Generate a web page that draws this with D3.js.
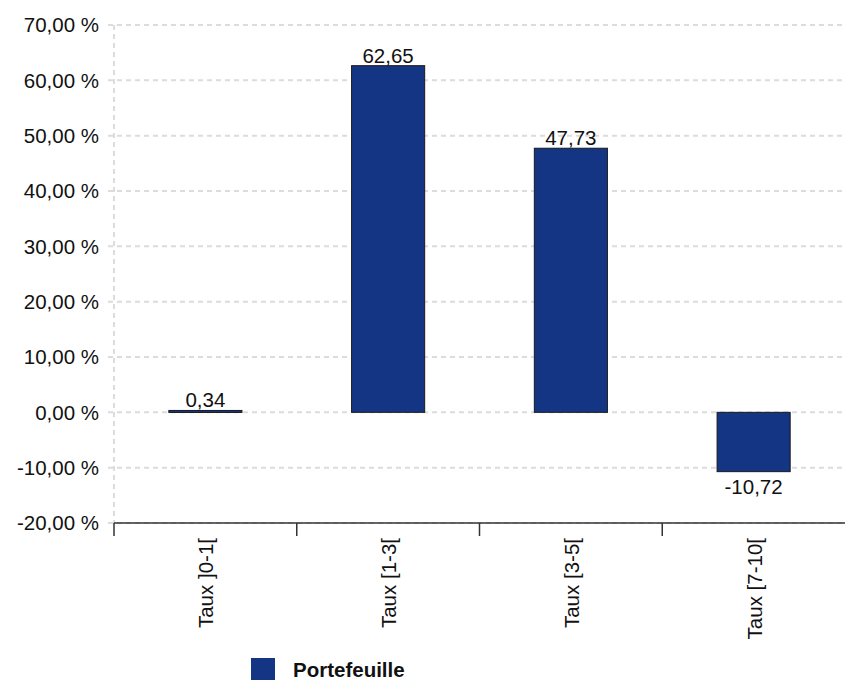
<!DOCTYPE html>
<html>
<head>
<meta charset="utf-8">
<script src="https://cdn.jsdelivr.net/npm/d3@7"></script>
<style>
  body { margin: 0; background: #fff; }
  svg { display: block; font-family: "Liberation Sans", Arial, sans-serif; }
</style>
</head>
<body>
<div id="chart"></div>
<script>
// Data
const categories = ["Taux ]0-1[", "Taux [1-3[", "Taux [3-5[", "Taux [7-10["];
const values = [0.34, 62.65, 47.73, -10.72];
const yTicks = [-20, -10, 0, 10, 20, 30, 40, 50, 60, 70];
const seriesName = "Portefeuille";

const W = 845, H = 680;
var margin = { top: 25, right: 0, bottom: 157, left: 114 },
    width = W - margin.left - margin.right,
    height = H - margin.top - margin.bottom;

const fmt = v => v.toFixed(2).replace(".", ",");

var svg = d3.select("#chart")
    .append("svg")
    .attr("width", W)
    .attr("height", H);

var g = svg.append("g")
    .attr("transform", "translate(" + margin.left + "," + margin.top + ")");

// Scales
var x = d3.scaleBand()
    .domain(categories)
    .range([0, width])
    .paddingInner(0.6)
    .paddingOuter(0.3);

var y = d3.scaleLinear()
    .domain([-20, 70])
    .range([height, 0]);

// Horizontal gridlines
g.append("g")
    .selectAll("line")
    .data(yTicks)
    .join("line")
    .attr("x1", -6)
    .attr("x2", width)
    .attr("y1", d => y(d))
    .attr("y2", d => y(d))
    .attr("stroke", "#dcdcdc")
    .attr("stroke-width", 2)
    .attr("stroke-dasharray", "5,4");

// Left vertical dashed line
g.append("line")
    .attr("x1", 0).attr("x2", 0)
    .attr("y1", 0).attr("y2", height)
    .attr("stroke", "#dcdcdc")
    .attr("stroke-width", 2)
    .attr("stroke-dasharray", "5,4");

// Y axis labels
g.append("g")
    .selectAll("text")
    .data(yTicks)
    .join("text")
    .attr("x", -15)
    .attr("y", d => y(d))
    .attr("dy", "0.35em")
    .attr("text-anchor", "end")
    .style("font-size", "20.5px")
    .attr("fill", "#111")
    .text(d => fmt(d) + " %");

// Bars
g.append("g")
    .selectAll("rect")
    .data(values)
    .join("rect")
    .attr("x", (d, i) => x(categories[i]))
    .attr("width", x.bandwidth())
    .attr("y", d => y(Math.max(0, d)))
    .attr("height", d => Math.max(2, Math.abs(y(d) - y(0))))
    .attr("fill", "#133584")
    .attr("stroke", "#1a1a1a")
    .attr("stroke-width", 1);

// Value labels
g.append("g")
    .selectAll("text")
    .data(values)
    .join("text")
    .attr("x", (d, i) => x(categories[i]) + x.bandwidth() / 2)
    .attr("y", d => d >= 0 ? y(d) - 3 : y(d) + 22)
    .attr("text-anchor", "middle")
    .style("font-size", "20.5px")
    .attr("fill", "#111")
    .text(d => d.toFixed(2).replace(".", ","));

// X axis
var step = width / categories.length;
g.append("line")
    .attr("x1", 0).attr("x2", width)
    .attr("y1", height).attr("y2", height)
    .attr("stroke", "#333")
    .attr("stroke-width", 1.5);

g.append("g")
    .selectAll("line")
    .data(d3.range(categories.length))
    .join("line")
    .attr("x1", i => i * step)
    .attr("x2", i => i * step)
    .attr("y1", height)
    .attr("y2", height + 13)
    .attr("stroke", "#333")
    .attr("stroke-width", 1.5);

// Category labels (rotated)
g.append("g")
    .selectAll("text")
    .data(categories)
    .join("text")
    .attr("transform", d => "translate(" + (x(d) + x.bandwidth() / 2 + 8) + "," + (height + 15) + ") rotate(-90)")
    .attr("text-anchor", "end")
    .style("font-size", "20.5px")
    .attr("fill", "#111")
    .text(d => d);

// Legend
var legend = svg.append("g")
    .attr("transform", "translate(251,658)");

legend.append("rect")
    .attr("width", 24)
    .attr("height", 22)
    .attr("fill", "#133584");

legend.append("text")
    .attr("x", 42)
    .attr("y", 19)
    .style("font-size", "20.5px")
    .style("font-weight", "bold")
    .attr("fill", "#111")
    .text(seriesName);
</script>
</body>
</html>
